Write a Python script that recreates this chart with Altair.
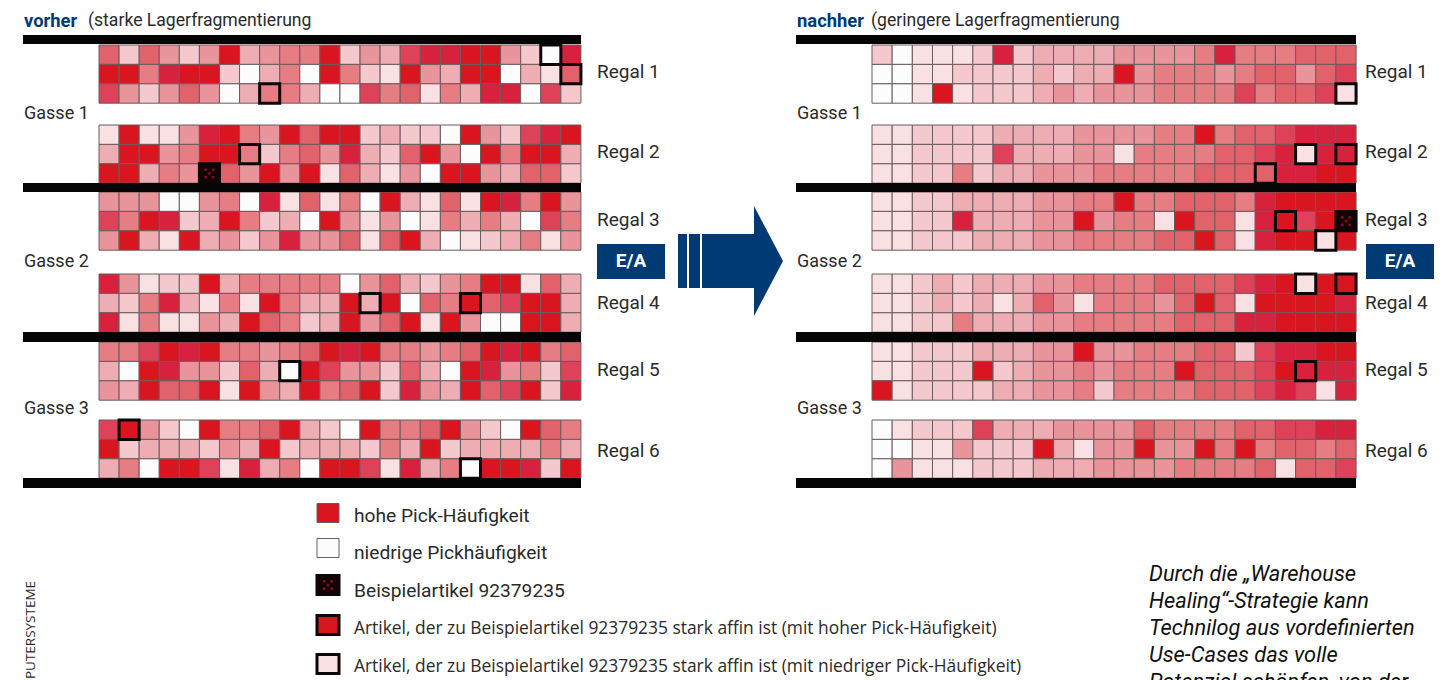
import altair as alt

# Pick frequency level of each cell, row by row (0 = low ... 9 = high, X = example article)
VORHER = [
    [6,2,6,4,2,4,9,3,4,5,5,9,2,4,3,7,8,8,9,9,4,2,0,8],
    [9,9,5,8,9,9,2,0,3,5,0,9,5,2,1,9,4,3,9,9,0,3,1,6],
    [7,4,2,4,6,4,0,3,5,5,3,0,0,7,5,6,1,5,3,8,8,0,7,2],
    [1,9,1,1,4,8,9,5,4,9,6,9,9,2,3,2,2,0,9,4,2,7,8,9],
    [3,9,9,4,5,9,9,5,2,5,6,4,8,3,2,6,9,4,0,9,5,9,9,3],
    [9,9,3,5,4,"X",6,4,9,4,9,1,6,3,1,4,0,9,9,4,3,6,6,2],
    [4,4,4,0,0,4,5,0,8,1,6,1,5,0,9,3,1,6,1,9,8,5,9,4],
    [7,5,9,8,2,3,9,5,2,3,0,9,4,1,4,0,1,5,3,5,3,0,7,5],
    [4,9,3,1,9,3,4,2,4,8,4,4,6,1,6,9,3,0,1,2,3,5,1,4],
    [8,4,1,2,2,9,3,5,5,5,5,5,0,4,6,3,2,4,5,9,9,1,6,3],
    [3,2,5,8,3,1,5,1,9,5,3,3,9,3,9,0,6,5,9,6,7,9,9,3],
    [8,1,5,1,1,4,3,9,6,5,2,3,9,4,6,9,1,9,4,0,0,9,9,3],
    [5,5,7,9,8,9,5,5,4,5,6,9,8,9,5,5,4,5,6,9,8,9,5,6],
    [3,0,9,8,4,4,2,6,3,0,9,7,4,4,2,6,3,0,9,8,4,5,2,7],
    [4,3,9,6,6,9,1,9,4,3,9,5,6,9,2,8,4,3,9,6,7,9,2,8],
    [7,9,4,2,0,9,5,5,6,9,3,2,0,9,5,5,6,9,4,2,0,9,6,5],
    [9,2,3,3,3,2,4,3,9,2,3,3,3,2,5,3,9,2,3,3,3,3,5,3],
    [3,5,0,9,9,7,1,8,3,5,0,9,9,7,1,8,3,5,0,9,9,8,2,9],
]
NACHHER = [
    [2,0,1,1,1,2,8,2,3,3,3,3,4,4,4,4,5,8,5,5,5,6,6,6],
    [0,0,1,1,2,2,2,2,3,2,3,3,9,4,5,5,5,4,5,6,6,4,6,7],
    [0,0,1,9,1,2,2,2,3,4,3,4,4,4,5,5,5,5,7,5,6,6,7,1],
    [1,1,2,2,2,2,3,3,3,3,4,4,4,4,5,5,9,5,6,6,7,8,8,8],
    [1,1,2,2,2,2,7,3,3,3,4,4,1,5,5,5,5,6,6,7,8,1,8,8],
    [1,1,2,2,5,2,3,3,4,4,4,5,5,5,5,5,6,6,6,6,8,8,9,9],
    [1,1,2,2,3,3,3,3,4,4,5,5,9,5,5,6,6,6,5,8,9,9,9,9],
    [1,1,2,2,8,3,3,3,4,4,9,4,5,5,1,9,6,6,1,8,9,7,9,"X"],
    [1,1,2,2,2,3,3,3,4,4,5,5,5,5,6,6,9,6,1,8,9,9,1,9],
    [1,1,2,3,2,3,3,3,4,4,5,5,5,5,6,6,6,6,7,8,9,1,9,9],
    [1,1,2,3,2,3,1,3,6,4,1,5,5,5,4,6,9,6,1,9,9,9,9,8],
    [1,1,2,2,5,3,3,3,4,4,5,5,5,5,5,6,6,6,8,8,9,9,9,9],
    [1,1,2,2,2,3,3,3,4,4,9,4,4,5,5,5,6,6,2,7,8,8,9,9],
    [1,1,2,2,2,9,2,3,4,4,5,4,5,5,5,9,6,6,6,7,9,8,8,8],
    [9,1,2,2,2,2,3,3,4,4,5,2,5,5,5,5,6,6,6,7,8,7,1,8],
    [0,1,2,2,2,7,3,3,3,4,4,4,4,6,5,5,5,5,6,6,7,7,8,8],
    [0,0,1,1,4,2,2,2,9,3,1,4,4,9,4,4,9,5,9,5,6,6,5,6],
    [0,4,1,1,1,2,2,2,3,3,3,4,4,4,4,5,5,5,5,6,1,6,6,7],
]
# Outlined cells: (row, column), 0-based
AFFIN_VORHER = [(0,22),(1,23),(2,8),(4,7),(5,5),(10,13),(10,18),(13,9),(15,1),(17,18)]
AFFIN_NACHHER = [(2,23),(4,21),(4,23),(5,19),(7,20),(7,23),(8,22),(9,21),(9,23),(13,21)]

LEVELS = ["0","1","2","3","4","5","6","7","8","9","X"]
LEVEL_COLORS = ["#fdfcfc","#f9e0e2","#f4c8cc","#eeadb2","#e9939a","#e67d83",
                "#e2626c","#dd4258","#d8213d","#d9151f","#120206"]

REGAL_TOPS = [45, 125, 192, 274, 342, 420]
REGAL_LABELS = ["Regal 1", "Regal 2", "Regal 3", "Regal 4", "Regal 5", "Regal 6"]
REGAL_LABEL_Y = [72, 152, 220, 303, 370, 451]
GASSE_LABELS = ["Gasse 1", "Gasse 2", "Gasse 3"]
GASSE_LABEL_Y = [114, 262, 409]
ROW_H = 19.4
BAR_Y = [(35, 44), (183, 192), (332, 342), (478, 488)]

PANELS = [
    dict(grid=VORHER, affin=AFFIN_VORHER, x0=99.0, step=20.08, bar0=23, bar1=581, lab=597, gasse=24, ea=(597, 665)),
    dict(grid=NACHHER, affin=AFFIN_NACHHER, x0=872.0, step=20.17, bar0=796, bar1=1356, lab=1365, gasse=797, ea=(1366, 1434)),
]

cells, outl, bars, dots, regal, gasse, ea_rects, ea_text = [], [], [], [], [], [], [], []
for p in PANELS:
    affin = set(p["affin"])
    for r, row in enumerate(p["grid"]):
        y0 = REGAL_TOPS[r // 3] + (r % 3) * ROW_H
        for c, v in enumerate(row):
            rec = dict(x=p["x0"] + c * p["step"], x2=p["x0"] + (c + 1) * p["step"],
                       y=y0, y2=y0 + ROW_H, level=str(v))
            cells.append(rec)
            if (r, c) in affin:
                outl.append(rec)
            if v == "X":
                dots.append(dict(x=(rec["x"] + rec["x2"]) / 2, y=(rec["y"] + rec["y2"]) / 2))
    for b0, b1 in BAR_Y:
        bars.append(dict(x=p["bar0"], x2=p["bar1"], y=b0, y2=b1))
    for t, y in zip(REGAL_LABELS, REGAL_LABEL_Y):
        regal.append(dict(x=p["lab"], y=y, t=t))
    for t, y in zip(GASSE_LABELS, GASSE_LABEL_Y):
        gasse.append(dict(x=p["gasse"], y=y, t=t))
    ea_rects.append(dict(x=p["ea"][0], x2=p["ea"][1], y=244, y2=279))
    ea_text.append(dict(x=sum(p["ea"]) / 2, y=261, t="E/A"))

# Legend
LEGEND_TEXT = ["hohe Pick-Häufigkeit", "niedrige Pickhäufigkeit", "Beispielartikel 92379235"]
LEGEND_TEXT2 = ["Artikel, der zu Beispielartikel 92379235 stark affin ist (mit hoher Pick-Häufigkeit)",
                "Artikel, der zu Beispielartikel 92379235 stark affin ist (mit niedriger  Pick-Häufigkeit)"]
LEGEND_LEVEL = ["9", "0", "X", "9", "1"]
LEGEND_Y = [513, 548, 585, 625, 664]
LEGEND_TY = [516, 553, 591, 629, 667]
for i in range(5):
    rec = dict(x=317, x2=339, y=LEGEND_Y[i] - 9.5, y2=LEGEND_Y[i] + 9.5, level=LEGEND_LEVEL[i])
    cells.append(rec)
    if i >= 2:
        outl.append(rec)
    if i == 2:
        dots.append(dict(x=328, y=LEGEND_Y[i]))
leg1 = [dict(x=354, y=y, t=t) for t, y in zip(LEGEND_TEXT, LEGEND_TY)]
leg2 = [dict(x=354, y=y, t=t) for t, y in zip(LEGEND_TEXT2, LEGEND_TY[3:])]

head_bold = [dict(x=24, y=21, t="vorher"), dict(x=797, y=21, t="nachher")]
head_reg = [dict(x=88, y=21, t="(starke Lagerfragmentierung"), dict(x=871, y=21, t="(geringere Lagerfragmentierung")]
CAPTION = ["Durch die „Warehouse", "Healing“-Strategie kann", "Technilog aus vordefinierten",
           "Use-Cases das volle", "Potenzial schöpfen, von der"]
CAPTION_Y = [574, 601, 628, 655, 682]
caption = [dict(x=1149, y=y, t=t) for t, y in zip(CAPTION, CAPTION_Y)]

arrow_rects = [dict(x=678, x2=687, y=234, y2=288), dict(x=689, x2=700, y=234, y2=288),
               dict(x=702, x2=754, y=234, y2=288)]
arrow_head = [dict(x=754, y=206, y2=316), dict(x=783, y=261, y2=261)]

X = alt.X("x:Q", scale=alt.Scale(domain=[8, 1441]), axis=None)
Y = alt.Y("y:Q", scale=alt.Scale(domain=[680, 8]), axis=None)
enc = dict(x=X, y=Y)
enc2 = dict(x=X, x2="x2:Q", y=Y, y2="y2:Q")
D = lambda rows: alt.Data(values=rows)
NAVY = "#003a74"
FONT = "Roboto"

def text(rows, **kw):
    base = dict(align="left", baseline="middle", font=FONT, fontSize=17.6, color="#2a2a2a")
    base.update(kw)
    return alt.Chart(D(rows)).mark_text(**base).encode(text="t:N", **enc)

layers = [
    alt.Chart(D(cells)).mark_rect(stroke="#6a5c5f", strokeWidth=1).encode(
        fill=alt.Fill("level:N", scale=alt.Scale(domain=LEVELS, range=LEVEL_COLORS), legend=None), **enc2),
    alt.Chart(D(outl)).mark_rect(fillOpacity=0, stroke="#0c0608", strokeWidth=3).encode(**enc2),
    alt.Chart(D(dots)).mark_point(
        filled=True, size=180, color="#7a1020", opacity=1,
        shape="M-.76,-.76h.4v.4h-.4zM.36,-.76h.4v.4h-.4zM-.76,.36h.4v.4h-.4zM.36,.36h.4v.4h-.4zM-.2,-.2h.4v.4h-.4z",
    ).encode(**enc),
    alt.Chart(D(bars)).mark_rect(color="#050505").encode(**enc2),
    alt.Chart(D(ea_rects + arrow_rects)).mark_rect(color=NAVY).encode(**enc2),
    alt.Chart(D(arrow_head)).mark_area(color=NAVY).encode(x=X, y=Y, y2="y2:Q"),
    text(regal, fontSize=19),
    text(gasse, fontSize=18),
    text(leg1, fontSize=19.2),
    text(leg2, font="Open Sans", fontSize=17.4),
    text(head_bold, fontWeight="bold", color=NAVY, fontSize=18.4),
    text(head_reg),
    text(ea_text, align="center", color="white", fontWeight="bold", fontSize=19),
    text(caption, fontStyle="italic", fontSize=21.8, color="#111111"),
    text([dict(x=31, y=630, t="PUTERSYSTEME")], align="center", angle=270, fontSize=13.5, font="Open Sans"),
]

chart = alt.layer(*layers).properties(
    width=1433, height=672, padding=0,
    autosize=alt.AutoSizeParams(type="none"),
    background="white",
).configure_view(stroke=None)

chart.save("out.html", embed_options={"renderer": "svg", "actions": False})
